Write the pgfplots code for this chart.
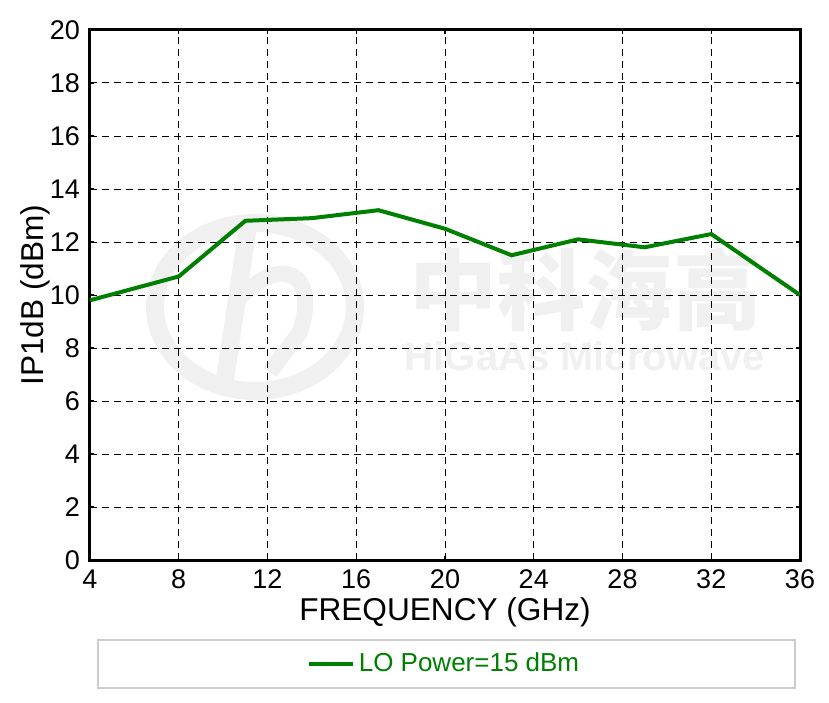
\documentclass[border=0pt]{standalone}
\usepackage{fontspec}
\setmainfont{Liberation Sans}
\newfontfamily\cjk{Noto Sans CJK SC}
\usepackage{pgfplots}
\pgfplotsset{compat=1.18}
\definecolor{mygreen}{RGB}{0,128,0}
\definecolor{wm}{RGB}{240,240,240}
\begin{document}
\begin{tikzpicture}[x=1pt,y=1pt]
% watermark (coordinates relative to the axis' lower-left corner)
\draw[wm, line width=9pt] (82.5,126.5) ellipse [x radius=50, y radius=42];
\draw[wm, line width=9pt] (67,87) -- (79,167);
\draw[wm, line width=8pt] (73,129) .. controls (95,154) and (115,144) .. (105,114) -- (90,94);
\node[wm, font=\cjk\bfseries\fontsize{44}{46}\selectfont] at (247.5,135) {中科海高};
\node[wm, font=\bfseries\fontsize{20}{22}\selectfont] at (247.5,102) {HiGaAs Microwave};
\begin{axis}[at={(0pt,0pt)}, anchor=south west, scale only axis,
  width=355pt, height=265pt,
  xmin=4, xmax=36, ymin=0, ymax=20,
  xtick={4,8,...,36}, ytick={0,2,...,20},
  grid=major,
  major grid style={black, line width=0.5pt, dash pattern=on 3.5pt off 2.5pt},
  axis line style={line width=1.5pt},
  tick align=inside, major tick length=2pt,
  tick style={black, line width=0.6pt},
  /pgf/number format/assume math mode=true,
  xticklabel style={font=\fontsize{13.5}{15}\selectfont, yshift=-1.5pt},
  yticklabel style={font=\fontsize{13.5}{15}\selectfont, xshift=-1.5pt},
  xlabel={FREQUENCY (GHz)}, ylabel={IP1dB (dBm)},
  label style={font=\fontsize{15.8}{18}\selectfont},
  xlabel style={at={(axis description cs:0.5,-0.098)}, anchor=center},
  ylabel style={at={(axis description cs:-0.0775,0.5)}, anchor=center},
  legend style={at={(0.5,-0.196)}, anchor=center, draw=none, fill=none,
    text=mygreen, font=\fontsize{13}{15}\selectfont},
  legend image code/.code={\draw[#1] (0pt,0pt) -- (22pt,0pt);},
]
\addplot[mygreen, line width=2pt] coordinates {
(4,9.8) (8,10.7) (11,12.8) (14,12.9) (17,13.2) (20,12.5) (23,11.5) (26,12.1) (29,11.8) (32,12.3) (36,10.0)};
\addlegendentry{LO Power=15 dBm}
\end{axis}
\draw[black!20, line width=0.6pt] (4,-64) rectangle (352.5,-40);
\pgfresetboundingbox
\useasboundingbox (-45,-71) rectangle (369.5,280);
\end{tikzpicture}
\end{document}
